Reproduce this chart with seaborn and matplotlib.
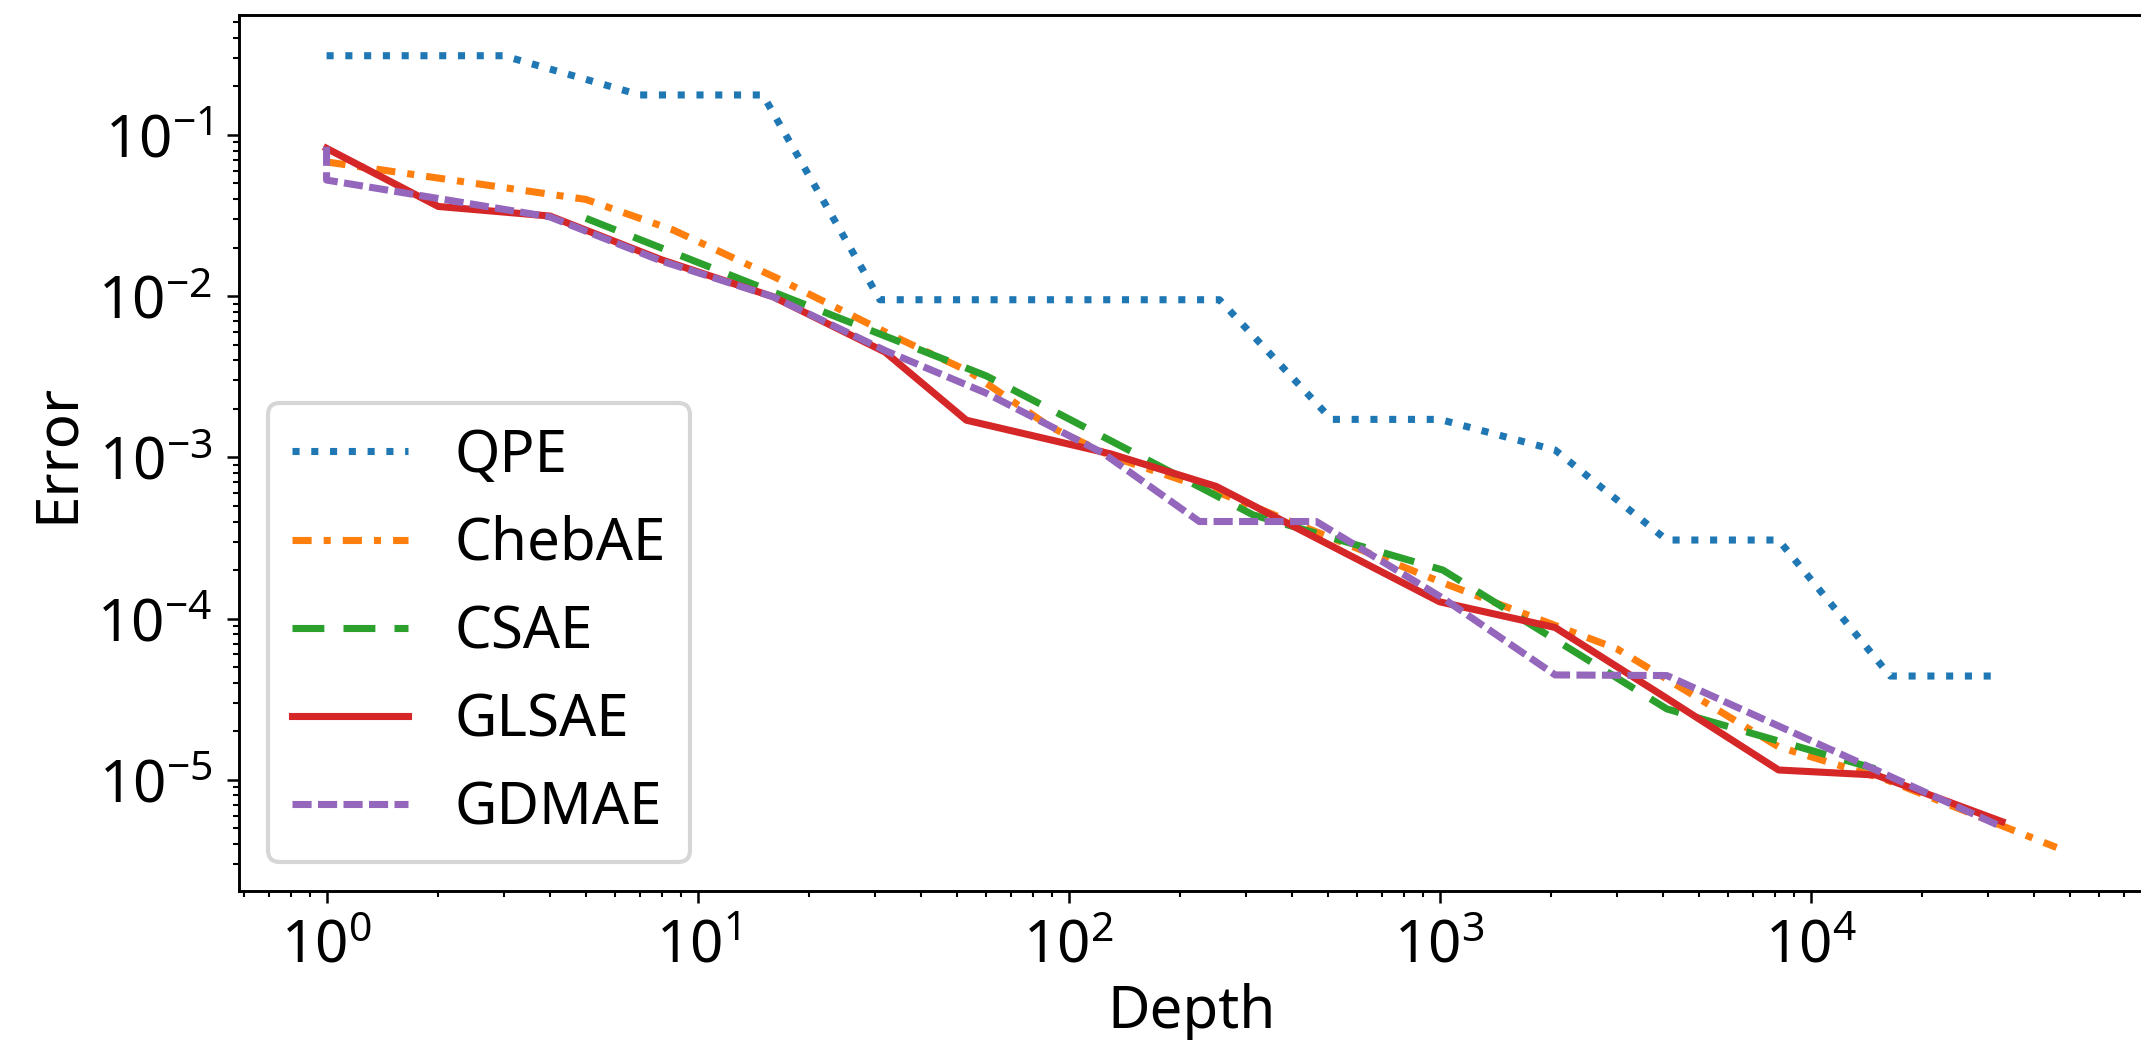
import matplotlib
matplotlib.use("Agg")
import matplotlib.pyplot as plt
import seaborn as sns
import pandas as pd

# ---------------- data ----------------
methods = ["QPE", "ChebAE", "CSAE", "GLSAE", "GDMAE"]

qpe_x = [1, 3, 7, 15, 31, 255, 511, 1000, 2047, 4095, 8191, 16383, 32767]
qpe_y = [0.31, 0.31, 0.177, 0.177, 0.0095, 0.0095, 0.00172, 0.00172, 0.00111,
         0.000307, 0.000307, 4.4e-5, 4.4e-5]

cheb_x = [1, 5, 8.6, 16.4, 34, 54, 89, 131, 256, 1024, 3000, 8192, 16000, 46000]
cheb_y = [0.068, 0.0398, 0.0257, 0.0129, 0.0056, 0.0034, 0.00155, 0.00101,
          0.0006, 0.000166, 6.5e-5, 1.6e-5, 1.0e-5, 3.8e-6]

csae_x = [5, 60, 314, 1020, 4096, 16384]
csae_y = [0.0304, 0.0032, 0.00044, 0.0002, 2.75e-5, 1.1e-5]

glsae_x = [1, 2, 4, 8, 16, 32, 53, 130, 250, 1000, 2048, 4096, 8192, 15000, 32768]
glsae_y = [0.0826, 0.036, 0.0314, 0.0168, 0.0099, 0.0045, 0.0017, 0.00105,
           0.00066, 0.000127, 8.8e-5, 3.2e-5, 1.15e-5, 1.07e-5, 5.5e-6]

gdmae_x = [1, 1, 4, 8, 16, 32, 60, 124, 225, 465, 1024, 2048, 4096, 32768]
gdmae_y = [0.0845, 0.0525, 0.031, 0.0165, 0.0099, 0.0046, 0.0025, 0.00106,
           0.0004, 0.0004, 0.000133, 4.47e-5, 4.43e-5, 5.1e-6]

# ---------------- style ----------------
plt.rcParams["font.family"] = ["Noto Sans", "DejaVu Sans"]
plt.rcParams["mathtext.fontset"] = "custom"
plt.rcParams["mathtext.rm"] = "Noto Sans"
plt.rcParams["mathtext.it"] = "Noto Sans:italic"
plt.rcParams["mathtext.bf"] = "Noto Sans:bold"
plt.rcParams["font.size"] = 14
plt.rcParams["axes.linewidth"] = 0.7

colors = sns.color_palette("tab10", 5)
linestyles = {
    "QPE": (0, (1, 1.65)),
    "ChebAE": (0, (2.7, 1.7, 1, 1.7)),
    "CSAE": (0, (4.5, 2.7)),
    "GLSAE": "-",
    "GDMAE": (0, (2.7, 0.9)),
}

W, H, DPI = 2141, 1040, 300
fig = plt.figure(figsize=(W / DPI, H / DPI), dpi=DPI)
ax = fig.add_axes([239 / W, 1 - 891 / H, (2145 - 239) / W, (891 - 15) / H])
ax.set_xscale("log")
ax.set_yscale("log")

series = {
    "QPE": (qpe_x, qpe_y),
    "ChebAE": (cheb_x, cheb_y),
    "CSAE": (csae_x, csae_y),
    "GLSAE": (glsae_x, glsae_y),
    "GDMAE": (gdmae_x, gdmae_y),
}

for i, m in enumerate(methods):
    xs, ys = series[m]
    df = pd.DataFrame({"Depth": xs, "Error": ys})
    sns.lineplot(data=df, x="Depth", y="Error", ax=ax, label=m,
                 color=colors[i], linestyle=linestyles[m], linewidth=1.7,
                 estimator=None, sort=False)

ax.set_xlim(10 ** -0.236, 10 ** 4.901)
ax.set_ylim(10 ** -5.69, 10 ** -0.256)

ax.tick_params(which="major", length=2.9, width=0.6, labelsize=14)
ax.tick_params(which="minor", length=1.4, width=0.5)

ax.set_xlabel("Depth", fontsize=14, labelpad=1.5)
ax.set_ylabel("Error", fontsize=14, labelpad=2.5)

ax.legend(loc="lower left", fontsize=14)

fig.savefig("out.png", dpi=DPI)
